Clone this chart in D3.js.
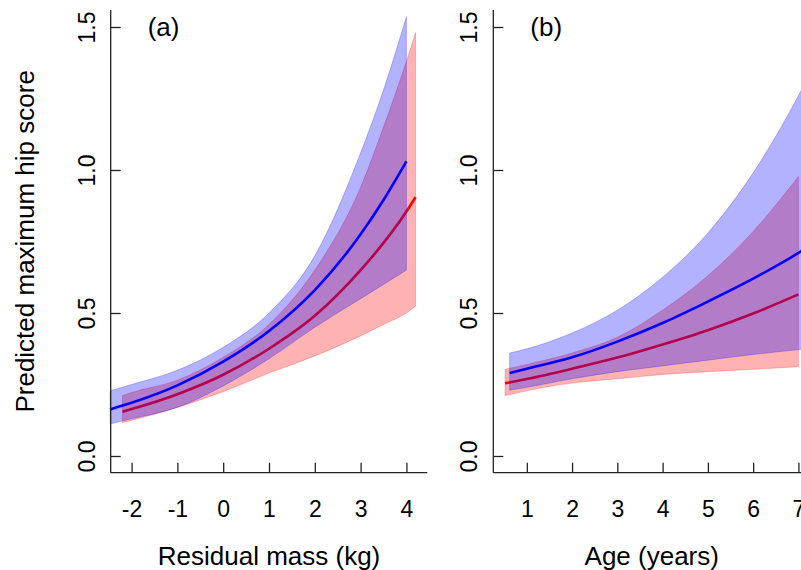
<!DOCTYPE html>
<html>
<head>
<meta charset="utf-8">
<script src="https://cdn.jsdelivr.net/npm/d3@7"></script>
<style>
    body { margin: 0; background: #fff; }
    text { font-family: "Liberation Sans", Arial, sans-serif; fill: #000; }
</style>
</head>
<body>
<svg id="chart" width="801" height="570"></svg>
<script>
// panel (a): residual mass
const massBlueX   = [-2.47, -2, -1, 0, 1, 2, 3, 3.5, 4.0];
const massBlueFit = [0.163, 0.186, 0.247, 0.33, 0.437, 0.58, 0.775, 0.895, 1.03];
const massBlueHi  = [0.228, 0.25, 0.30, 0.38, 0.50, 0.70, 1.06, 1.28, 1.536];
const massBlueLo  = [0.112, 0.13, 0.17, 0.245, 0.34, 0.45, 0.55, 0.60, 0.65];

const massRedX   = [-2.2, -2, -1, 0, 1, 2, 3, 3.5, 4, 4.2];
const massRedFit = [0.155, 0.164, 0.216, 0.284, 0.375, 0.49, 0.65, 0.745, 0.855, 0.905];
const massRedHi  = [0.211, 0.222, 0.265, 0.345, 0.46, 0.65, 0.94, 1.15, 1.38, 1.48];
const massRedLo  = [0.117, 0.125, 0.17, 0.225, 0.29, 0.35, 0.42, 0.46, 0.50, 0.524];

// panel (b): age
const ageBlueX   = [0.62, 1, 2, 3, 4, 5, 6, 7, 7.1];
const ageBlueFit = [0.29, 0.305, 0.345, 0.40, 0.465, 0.54, 0.62, 0.71, 0.72];
const ageBlueHi  = [0.36, 0.375, 0.43, 0.51, 0.625, 0.78, 0.99, 1.26, 1.29];
const ageBlueLo  = [0.23, 0.24, 0.27, 0.295, 0.315, 0.335, 0.355, 0.372, 0.374];

const ageRedX   = [0.52, 1, 2, 3, 4, 5, 6, 7];
const ageRedFit = [0.254, 0.269, 0.305, 0.344, 0.39, 0.44, 0.498, 0.565];
const ageRedHi  = [0.303, 0.32, 0.36, 0.415, 0.51, 0.63, 0.785, 0.977];
const ageRedLo  = [0.211, 0.228, 0.255, 0.27, 0.285, 0.295, 0.303, 0.312];

// ticks
const massTicks = [-2, -1, 0, 1, 2, 3, 4];
const ageTicks = [1, 2, 3, 4, 5, 6, 7];
const yTicks = [0, 0.5, 1.0, 1.5];

const svg = d3.select('#chart');

const yTop = 10, yBottom = 472.7;
const yScale = d3.scaleLinear()
    .domain([-0.0584, 1.5594])
    .range([yBottom, yTop]);

function series(xs, fit, lo, hi) {
    return xs.map((x, i) => ({ x: x, fit: fit[i], lo: lo[i], hi: hi[i] }));
}

function drawPanel(opts) {
    const xScale = d3.scaleLinear()
        .domain(opts.domain)
        .range(opts.range);

    const g = svg.append('g');

    const area = d3.area()
        .x(d => xScale(d.x))
        .y0(d => yScale(d.lo))
        .y1(d => yScale(d.hi))
        .curve(d3.curveMonotoneX);

    const line = d3.line()
        .x(d => xScale(d.x))
        .y(d => yScale(d.fit))
        .curve(d3.curveMonotoneX);

    //red first, then blue on top
    g.append('path')
        .datum(opts.red)
        .attr('fill', 'rgba(255,0,0,0.3)')
        .attr('stroke', 'rgba(255,0,0,0.3)')
        .attr('stroke-width', 0.8)
        .attr('d', area);

    g.append('path')
        .datum(opts.red)
        .attr('fill', 'none')
        .attr('stroke', '#ff0000')
        .attr('stroke-width', 2.6)
        .attr('d', line);

    g.append('path')
        .datum(opts.blue)
        .attr('fill', 'rgba(0,0,255,0.3)')
        .attr('stroke', 'rgba(0,0,255,0.3)')
        .attr('stroke-width', 0.8)
        .attr('d', area);

    g.append('path')
        .datum(opts.blue)
        .attr('fill', 'none')
        .attr('stroke', '#0000ff')
        .attr('stroke-width', 2.6)
        .attr('d', line);

    //x-axis, ticks pointing inward
    const xAxis = g.append('g')
        .attr('transform', `translate(0,${yBottom})`)
        .call(d3.axisBottom(xScale)
            .tickValues(opts.ticks)
            .tickFormat(d3.format('d'))
            .tickSizeInner(-10)
            .tickSizeOuter(0)
            .tickPadding(28));
    xAxis.select('.domain')
        .attr('d', `M${opts.range[0]},0H${opts.range[1]}`);
    xAxis.selectAll('path, line').attr('stroke', '#222').attr('stroke-width', 1.3);
    xAxis.selectAll('text')
        .style('font-size', '23px')
        .style('font-family', '"Liberation Sans", Arial, sans-serif')
        .attr('fill', '#000')
        .text(d => d < 0 ? '-' + Math.abs(d) : d);

    //y-axis with rotated labels
    const yAxis = g.append('g')
        .attr('transform', `translate(${opts.range[0]},0)`)
        .call(d3.axisLeft(yScale)
            .tickValues(yTicks)
            .tickFormat(d3.format('.1f'))
            .tickSizeInner(-10)
            .tickSizeOuter(0));
    yAxis.select('.domain')
        .attr('d', `M0,${yTop}V${yBottom}`);
    yAxis.selectAll('path, line').attr('stroke', '#222').attr('stroke-width', 1.3);
    yAxis.selectAll('text')
        .attr('transform', 'rotate(-90)')
        .attr('x', 0)
        .attr('y', -16)
        .attr('dy', 0)
        .attr('text-anchor', 'middle')
        .style('font-size', '23px')
        .style('font-family', '"Liberation Sans", Arial, sans-serif')
        .attr('fill', '#000');

    //panel letter
    svg.append('text')
        .attr('x', opts.range[0] + 37)
        .attr('y', 36)
        .style('font-size', '26px')
        .text(opts.letter);

    //x title
    svg.append('text')
        .attr('x', (opts.range[0] + opts.range[1]) / 2)
        .attr('y', 565)
        .attr('text-anchor', 'middle')
        .style('font-size', '26px')
        .text(opts.xTitle);
}

drawPanel({
    domain: [-2.456, 4.456],
    range: [110.7, 427.3],
    ticks: massTicks,
    blue: series(massBlueX, massBlueFit, massBlueLo, massBlueHi),
    red: series(massRedX, massRedFit, massRedLo, massRedHi),
    letter: '(a)',
    xTitle: 'Residual mass (kg)'
});

drawPanel({
    domain: [0.26, 7.26],
    range: [493.3, 810.2],
    ticks: ageTicks,
    blue: series(ageBlueX, ageBlueFit, ageBlueLo, ageBlueHi),
    red: series(ageRedX, ageRedFit, ageRedLo, ageRedHi),
    letter: '(b)',
    xTitle: 'Age (years)'
});

//shared y title
svg.append('text')
    .attr('transform', `translate(34,${(yTop + yBottom) / 2}) rotate(-90)`)
    .attr('text-anchor', 'middle')
    .style('font-size', '26px')
    .text('Predicted maximum hip score');
</script>
</body>
</html>
